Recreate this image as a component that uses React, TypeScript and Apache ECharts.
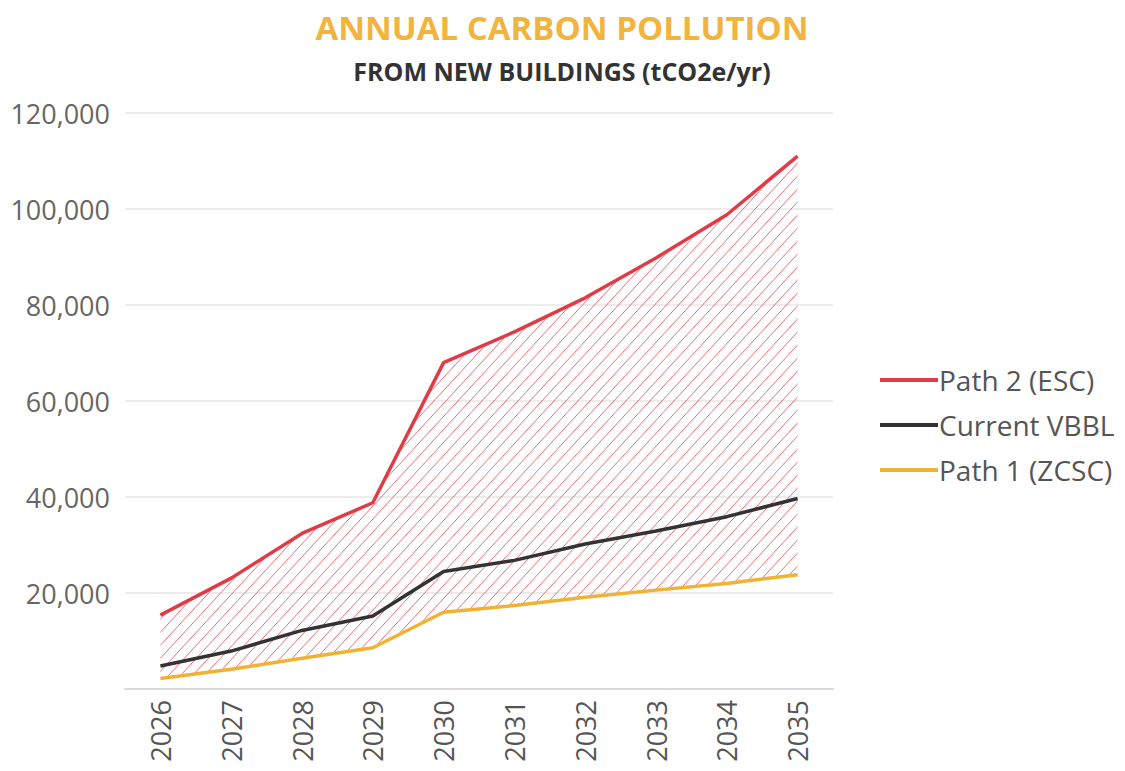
import React, { useEffect, useRef } from "react";
import * as echarts from "echarts";

const years = ["2026", "2027", "2028", "2029", "2030", "2031", "2032", "2033", "2034", "2035"];
const path2ESC = [15400, 23100, 32400, 38800, 68000, 74400, 81500, 89800, 98800, 111000];
const currentVBBL = [4800, 7900, 12200, 15200, 24500, 26800, 30200, 32900, 35900, 39700];
const path1ZCSC = [2200, 4100, 6400, 8600, 16000, 17400, 19100, 20600, 22000, 23800];
const yTicks = { min: 0, max: 120000, interval: 20000 };

const FONT = "'Open Sans', 'Noto Sans', sans-serif";

function makeHatch() {
  const w = 12;
  const h = 13;
  const c = document.createElement("canvas");
  c.width = w;
  c.height = h;
  const ctx = c.getContext("2d")!;
  ctx.strokeStyle = "rgba(232,72,82,0.8)";
  ctx.lineWidth = 1;
  for (const off of [-w, 0, w]) {
    ctx.beginPath();
    ctx.moveTo(off - w, 2 * h);
    ctx.lineTo(off + 2 * w, -h);
    ctx.stroke();
  }
  return { image: c, repeat: "repeat", imageWidth: w, imageHeight: h };
}

export default function App() {
  const ref = useRef<HTMLDivElement>(null);
  useEffect(() => {
    if (!ref.current) return;
    const chart = echarts.init(ref.current, undefined, { renderer: "svg" });
    const band = path2ESC.map((v, i) => v - path1ZCSC[i]);
    chart.setOption({
      animation: false,
      backgroundColor: "#ffffff",
      textStyle: { fontFamily: FONT },
      title: [
        {
          text: "ANNUAL CARBON POLLUTION",
          left: 557,
          top: 6,
          textAlign: "center",
          textStyle: { fontFamily: FONT, fontSize: 33, fontWeight: "bold", color: "#f1b43f" },
        },
        {
          text: "FROM NEW BUILDINGS (tCO2e/yr)",
          left: 557,
          top: 53,
          textAlign: "center",
          textStyle: { fontFamily: FONT, fontSize: 25, fontWeight: "bold", color: "#333333" },
        },
      ],
      legend: {
        orient: "vertical",
        left: 875,
        top: 361,
        itemWidth: 58,
        itemHeight: 4,
        itemGap: 17,
        icon: "rect",
        data: ["Path 2 (ESC)", "Current VBBL", "Path 1 (ZCSC)"],
        textStyle: { fontFamily: FONT, fontSize: 28, color: "#555555", padding: [0, 0, 0, -4] },
      },
      grid: { left: 125, right: 292, top: 113, bottom: 82, containLabel: false },
      xAxis: {
        type: "category",
        data: years,
        boundaryGap: true,
        axisTick: { show: false },
        axisLine: { lineStyle: { color: "#dadada", width: 2 } },
        axisLabel: { rotate: 90, margin: 11, fontSize: 27, color: "#555555", fontFamily: FONT },
      },
      yAxis: {
        type: "value",
        min: yTicks.min,
        max: yTicks.max,
        interval: yTicks.interval,
        axisLine: { show: false },
        axisTick: { show: false },
        splitLine: { lineStyle: { color: "#e6e6e6", width: 1.5 } },
        axisLabel: {
          margin: 15,
          fontSize: 27,
          color: "#666666",
          fontFamily: FONT,
          formatter: (v: number) => (v === 0 ? "" : v.toLocaleString("en-US")),
        },
      },
      series: [
        {
          name: "base",
          type: "line",
          stack: "band",
          data: path1ZCSC,
          symbol: "none",
          lineStyle: { opacity: 0, width: 0 },
          silent: true,
          z: 1,
        },
        {
          name: "hatch",
          type: "line",
          stack: "band",
          data: band,
          symbol: "none",
          lineStyle: { opacity: 0, width: 0 },
          areaStyle: { color: makeHatch(), opacity: 1 },
          silent: true,
          z: 1,
        },
        {
          name: "Path 1 (ZCSC)",
          type: "line",
          data: path1ZCSC,
          symbol: "none",
          color: "#f0b233",
          lineStyle: { color: "#f0b233", width: 3.5 },
          z: 3,
        },
        {
          name: "Current VBBL",
          type: "line",
          data: currentVBBL,
          symbol: "none",
          color: "#333333",
          lineStyle: { color: "#333333", width: 3.5 },
          z: 4,
        },
        {
          name: "Path 2 (ESC)",
          type: "line",
          data: path2ESC,
          symbol: "none",
          color: "#e03c48",
          lineStyle: { color: "#e03c48", width: 3.5 },
          z: 5,
        },
      ],
    });
    return () => chart.dispose();
  }, []);
  return (
    <div
      ref={ref}
      style={{ position: "fixed", left: 0, top: 0, width: 1125, height: 771, background: "#fff" }}
    />
  );
}
